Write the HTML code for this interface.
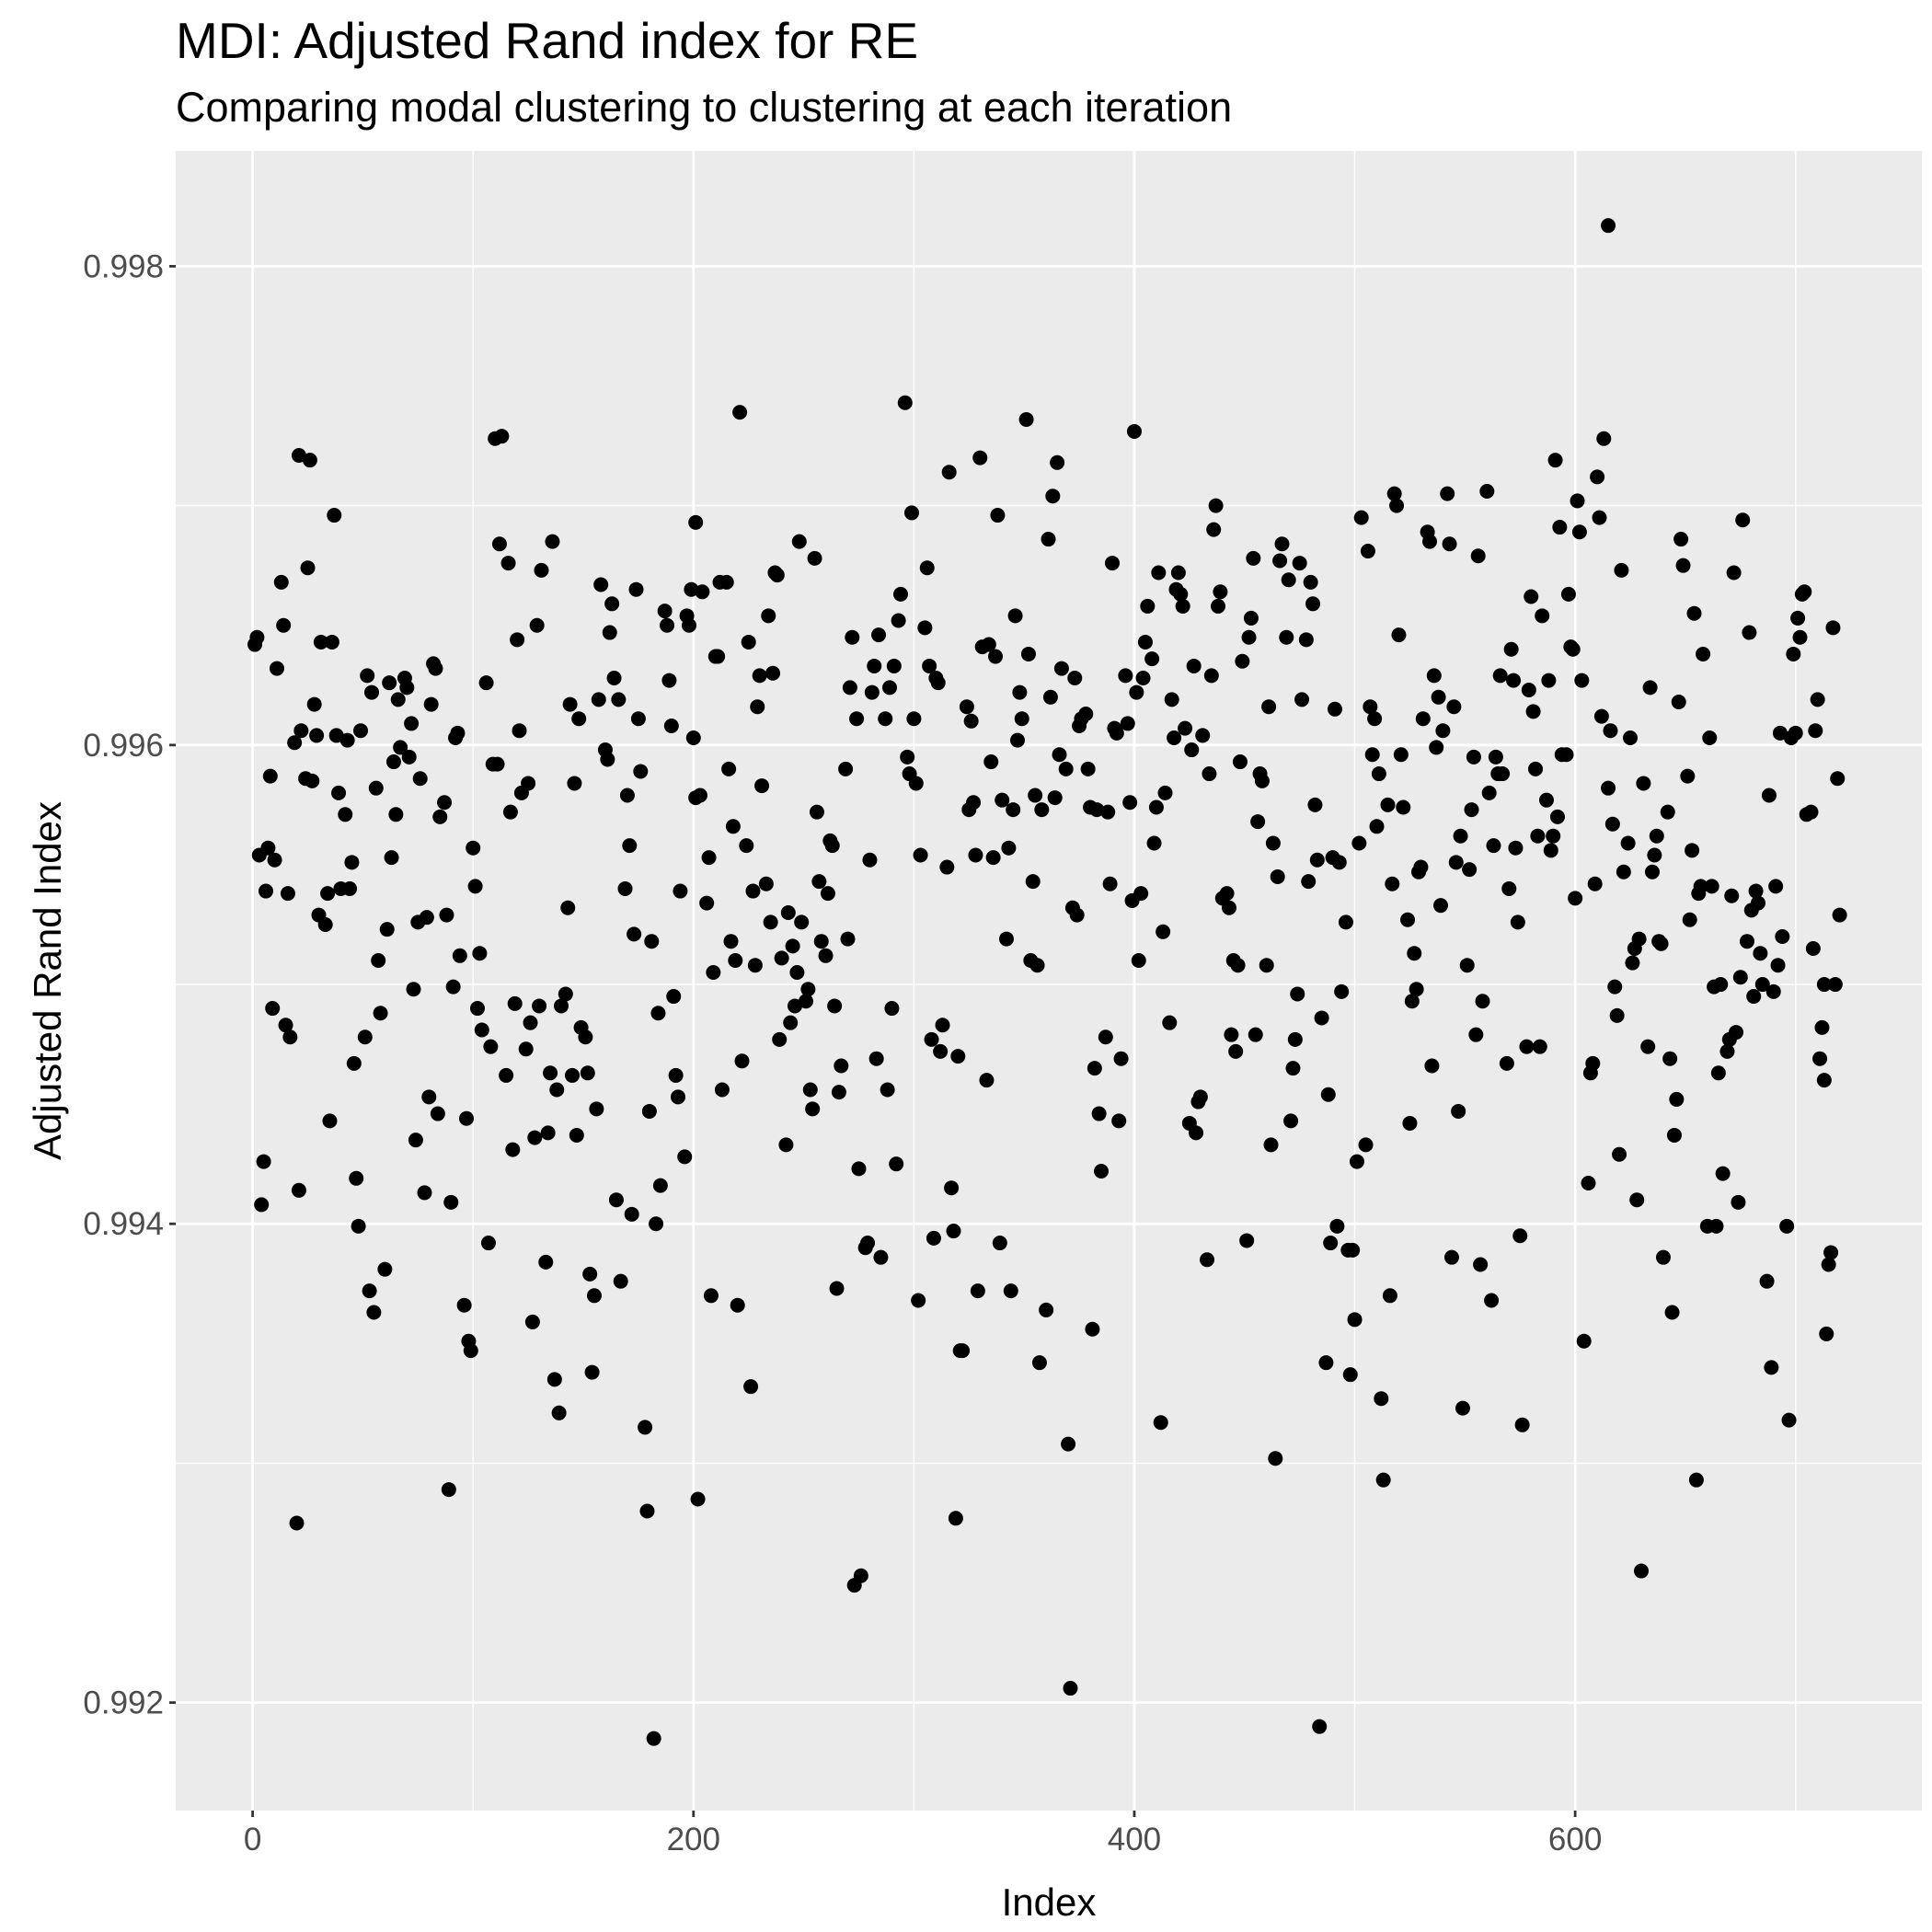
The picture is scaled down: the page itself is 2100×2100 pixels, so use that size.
<!DOCTYPE html>
<html><head><meta charset="utf-8">
<style>
html,body{margin:0;padding:0;background:#fff;}
svg{display:block;font-family:"Liberation Sans",Arial,sans-serif;}
</style></head>
<body>
<svg id="chart" width="2100" height="2100" viewBox="0 0 2100 2100" xmlns="http://www.w3.org/2000/svg">
<rect width="2100" height="2100" fill="#ffffff"/>
<text x="191" y="63" font-size="55" fill="#000">MDI: Adjusted Rand index for RE</text>
<text x="191" y="132" font-size="45" fill="#000">Comparing modal clustering to clustering at each iteration</text>
<rect x="191" y="164" width="1898" height="1804" fill="#ebebeb"/>
<g id="grid"></g>
<g id="points"></g>
<g id="axes"></g>
<text x="1140" y="2082" font-size="42" text-anchor="middle" fill="#000">Index</text>
<text transform="translate(66,1066) rotate(-90)" font-size="42" text-anchor="middle" fill="#000">Adjusted Rand Index</text>
</svg>
<script>
const xMajorTicks = [0, 200, 400, 600];
const xMinorTicks = [100, 300, 500, 700];
const yMajorTicks = [0.992, 0.994, 0.996, 0.998];
const yMinorTicks = [0.993, 0.995, 0.997];
const xTickLabels = ["0", "200", "400", "600"];
const yTickLabels = ["0.992", "0.994", "0.996", "0.998"];
const idx = [1,2,3,4,5,6,7,8,9,10,11,13,14,15,16,17,19,20,21,21,22,24,25,26,27,28,29,30,31,33,34,35,36,37,38,39,40,42,43,44,45,46,47,48,49,51,52,53,54,55,56,57,58,60,61,62,63,64,65,66,67,69,70,71,72,73,74,75,76,78,79,80,81,82,83,84,85,87,88,89,90,91,92,93,94,96,97,98,99,100,101,102,103,104,106,107,108,109,110,111,112,113,115,116,117,118,119,120,121,122,124,125,126,127,128,129,130,131,133,134,135,136,137,138,139,140,142,143,144,145,146,147,148,149,151,152,153,154,155,156,157,158,160,161,162,163,164,165,166,167,169,170,171,172,173,174,175,176,178,179,180,181,182,183,184,185,187,188,189,190,191,192,193,194,196,197,198,199,200,201,202,201,203,204,206,207,208,209,210,211,212,213,215,216,217,218,219,220,221,222,224,225,226,227,228,229,230,231,233,234,235,236,237,238,239,240,242,243,244,245,246,247,248,249,251,252,253,254,255,256,257,258,260,261,262,263,264,265,266,267,269,270,271,272,273,274,275,276,278,279,280,281,282,283,284,285,287,288,289,290,291,292,293,294,296,297,298,299,300,301,302,303,305,306,307,308,309,310,311,312,313,315,316,317,318,319,320,321,322,324,325,326,327,328,329,330,331,333,334,335,336,337,338,339,340,342,343,344,345,346,347,348,349,351,352,353,354,355,356,357,358,360,361,362,363,364,365,366,367,369,370,371,372,373,374,375,376,378,379,380,381,382,383,384,385,387,388,389,390,391,392,393,394,396,397,398,399,400,401,402,403,404,405,406,408,409,410,411,412,413,414,416,417,418,419,420,421,422,423,425,426,427,428,429,430,431,433,434,435,436,437,438,439,440,442,443,444,445,446,447,448,449,451,452,453,454,455,456,457,458,460,461,462,463,464,465,466,467,469,470,471,472,473,474,475,476,478,479,480,481,482,483,484,485,487,488,489,490,491,492,493,494,496,497,498,499,500,501,502,503,505,506,507,508,509,510,511,512,513,515,516,517,518,519,520,521,522,524,525,526,527,528,529,530,531,533,534,535,536,537,538,539,540,542,543,544,545,546,547,548,549,551,552,553,554,555,556,557,558,560,561,562,563,564,565,566,567,569,570,571,572,573,574,575,576,578,579,580,581,582,583,584,585,587,588,589,590,591,592,593,594,596,597,598,599,600,601,602,603,604,606,607,608,609,610,611,612,613,615,616,617,618,619,620,621,622,624,625,626,627,628,629,630,631,633,634,635,636,637,638,639,640,642,643,644,645,646,647,648,649,651,652,653,654,655,656,657,658,660,661,662,663,664,665,666,667,669,670,671,672,673,674,675,676,678,679,680,681,682,683,684,685,687,688,689,690,691,692,693,694,696,697,698,699,700,701,702,703,704,705,707,708,709,710,711,712,713,715,716,717,718,719,720,713,714,615];
const ari = [.99642,.99645,.99554,.99408,.99426,.99539,.99557,.99587,.99490,.99552,.99632,.99668,.99650,.99483,.99538,.99478,.99601,.99275,.99414,.99721,.99606,.99586,.99674,.99719,.99585,.99617,.99604,.99529,.99643,.99525,.99538,.99443,.99643,.99696,.99604,.99580,.99540,.99571,.99602,.99540,.99551,.99467,.99419,.99399,.99606,.99478,.99629,.99372,.99622,.99363,.99582,.99510,.99488,.99381,.99523,.99626,.99553,.99593,.99571,.99619,.99599,.99628,.99624,.99595,.99609,.99498,.99435,.99526,.99586,.99413,.99528,.99453,.99617,.99634,.99632,.99446,.99570,.99576,.99529,.99289,.99409,.99499,.99603,.99605,.99512,.99366,.99444,.99351,.99347,.99557,.99541,.99490,.99513,.99481,.99626,.99392,.99474,.99592,.99728,.99592,.99684,.99729,.99462,.99676,.99572,.99431,.99492,.99644,.99606,.99580,.99473,.99584,.99484,.99359,.99436,.99650,.99491,.99673,.99384,.99438,.99463,.99685,.99335,.99456,.99321,.99491,.99496,.99532,.99617,.99462,.99584,.99437,.99611,.99482,.99478,.99463,.99379,.99338,.99370,.99448,.99619,.99667,.99598,.99594,.99647,.99659,.99628,.99410,.99619,.99376,.99540,.99579,.99558,.99404,.99521,.99665,.99611,.99589,.99315,.99280,.99447,.99518,.99185,.99400,.99488,.99416,.99656,.99650,.99627,.99608,.99495,.99462,.99453,.99539,.99428,.99654,.99650,.99665,.99603,.99578,.99285,.99693,.99579,.99664,.99534,.99553,.99370,.99505,.99637,.99637,.99668,.99456,.99668,.99590,.99518,.99566,.99510,.99366,.99739,.99468,.99558,.99643,.99332,.99539,.99508,.99616,.99629,.99583,.99542,.99654,.99526,.99630,.99672,.99671,.99477,.99511,.99433,.99530,.99484,.99516,.99491,.99505,.99685,.99526,.99493,.99498,.99456,.99448,.99678,.99572,.99543,.99518,.99512,.99538,.99560,.99558,.99491,.99373,.99455,.99466,.99590,.99519,.99624,.99645,.99249,.99611,.99423,.99253,.99390,.99392,.99552,.99622,.99633,.99469,.99646,.99386,.99611,.99456,.99624,.99490,.99633,.99425,.99652,.99663,.99743,.99595,.99588,.99697,.99611,.99584,.99368,.99554,.99649,.99674,.99633,.99477,.99394,.99628,.99626,.99472,.99483,.99549,.99714,.99415,.99397,.99277,.99470,.99347,.99347,.99616,.99573,.99610,.99576,.99554,.99372,.99720,.99641,.99460,.99642,.99593,.99553,.99637,.99696,.99392,.99577,.99519,.99557,.99372,.99573,.99654,.99602,.99622,.99611,.99736,.99638,.99510,.99543,.99579,.99508,.99342,.99573,.99364,.99686,.99620,.99704,.99578,.99718,.99596,.99632,.99590,.99308,.99206,.99532,.99628,.99529,.99608,.99611,.99613,.99590,.99574,.99356,.99465,.99573,.99446,.99422,.99478,.99572,.99542,.99676,.99607,.99605,.99443,.99469,.99629,.99609,.99576,.99535,.99731,.99622,.99510,.99538,.99628,.99643,.99658,.99636,.99559,.99574,.99672,.99317,.99522,.99580,.99484,.99619,.99603,.99665,.99672,.99663,.99658,.99607,.99442,.99598,.99633,.99438,.99451,.99453,.99604,.99385,.99588,.99629,.99690,.99700,.99658,.99664,.99536,.99538,.99532,.99479,.99510,.99472,.99508,.99593,.99635,.99393,.99645,.99653,.99678,.99479,.99568,.99588,.99585,.99508,.99616,.99433,.99559,.99302,.99545,.99677,.99684,.99645,.99669,.99443,.99465,.99477,.99496,.99676,.99619,.99644,.99543,.99668,.99659,.99575,.99552,.99190,.99486,.99342,.99454,.99392,.99553,.99615,.99399,.99551,.99497,.99526,.99389,.99337,.99389,.99360,.99426,.99559,.99695,.99433,.99681,.99616,.99596,.99611,.99566,.99588,.99327,.99293,.99575,.99370,.99542,.99705,.99700,.99646,.99596,.99574,.99527,.99442,.99493,.99513,.99498,.99547,.99549,.99611,.99689,.99685,.99466,.99629,.99599,.99620,.99533,.99606,.99705,.99684,.99386,.99616,.99551,.99447,.99562,.99323,.99508,.99548,.99573,.99595,.99479,.99679,.99383,.99493,.99706,.99580,.99368,.99558,.99595,.99588,.99629,.99588,.99467,.99540,.99640,.99627,.99557,.99526,.99395,.99316,.99474,.99623,.99662,.99614,.99590,.99562,.99474,.99654,.99577,.99627,.99556,.99562,.99719,.99570,.99691,.99596,.99596,.99663,.99641,.99640,.99536,.99702,.99689,.99627,.99351,.99417,.99463,.99467,.99542,.99712,.99695,.99612,.99728,.99582,.99606,.99567,.99499,.99487,.99429,.99673,.99547,.99559,.99603,.99509,.99515,.99410,.99519,.99255,.99584,.99474,.99624,.99547,.99554,.99562,.99518,.99517,.99386,.99572,.99469,.99363,.99437,.99452,.99618,.99686,.99675,.99587,.99527,.99556,.99655,.99293,.99538,.99541,.99638,.99399,.99603,.99541,.99499,.99399,.99463,.99500,.99421,.99472,.99477,.99537,.99672,.99480,.99409,.99503,.99694,.99518,.99647,.99531,.99495,.99539,.99534,.99513,.99500,.99376,.99579,.99340,.99497,.99541,.99508,.99605,.99520,.99399,.99318,.99603,.99638,.99605,.99653,.99645,.99663,.99664,.99571,.99572,.99515,.99606,.99619,.99469,.99482,.99500,.99383,.99388,.99649,.99500,.99586,.99529,.99460,.99354,.99817];

const NS = "http://www.w3.org/2000/svg";
const P = {left:191, right:2089, top:164, bottom:1968};
const xDom = [-34.9, 757.3], yDom = [0.991549, 0.998482];
function xs(v){ return P.left + (v - xDom[0]) / (xDom[1] - xDom[0]) * (P.right - P.left); }
function ys(v){ return P.bottom - (v - yDom[0]) / (yDom[1] - yDom[0]) * (P.bottom - P.top); }
function mk(tag, attrs, parent){ const e = document.createElementNS(NS, tag); for (const k in attrs) e.setAttribute(k, attrs[k]); parent.appendChild(e); return e; }

const grid = document.getElementById('grid');
yMinorTicks.forEach(v => { const l = mk('line', {x1:P.left, x2:P.right, y1:ys(v), y2:ys(v), stroke:'#fff', 'stroke-width':1.4}, grid);

 });
xMinorTicks.forEach(v => { const l = mk('line', {y1:P.top, y2:P.bottom, x1:xs(v), x2:xs(v), stroke:'#fff', 'stroke-width':1.4}, grid);

 });
yMajorTicks.forEach(v => { const l = mk('line', {x1:P.left, x2:P.right, y1:ys(v), y2:ys(v), stroke:'#fff', 'stroke-width':2.8}, grid);

 });
xMajorTicks.forEach(v => { const l = mk('line', {y1:P.top, y2:P.bottom, x1:xs(v), x2:xs(v), stroke:'#fff', 'stroke-width':2.8}, grid);

 });

const pts = document.getElementById('points');
for (let i = 0; i < ari.length; i++) {
  const c = mk('circle', {cx:xs(idx[i]), cy:ys(ari[i]), r:8, fill:'#000'}, pts);
  
  
}

const axes = document.getElementById('axes');
yMajorTicks.forEach((v, i) => {
  const t = mk('line', {x1:P.left-7, x2:P.left, y1:ys(v), y2:ys(v), stroke:'#333', 'stroke-width':2.8}, axes);
  
  
  const tx = mk('text', {x:P.left-13, y:ys(v)+12, 'font-size':35, fill:'#4d4d4d', 'text-anchor':'end'}, axes);
  tx.textContent = yTickLabels[i];
  
  
});
xMajorTicks.forEach((v, i) => {
  const t = mk('line', {x1:xs(v), x2:xs(v), y1:P.bottom, y2:P.bottom+7, stroke:'#333', 'stroke-width':2.8}, axes);
  
  
  const tx = mk('text', {x:xs(v), y:P.bottom+43, 'font-size':35, fill:'#4d4d4d', 'text-anchor':'middle'}, axes);
  tx.textContent = xTickLabels[i];
  
  
});
</script>
</body></html>
